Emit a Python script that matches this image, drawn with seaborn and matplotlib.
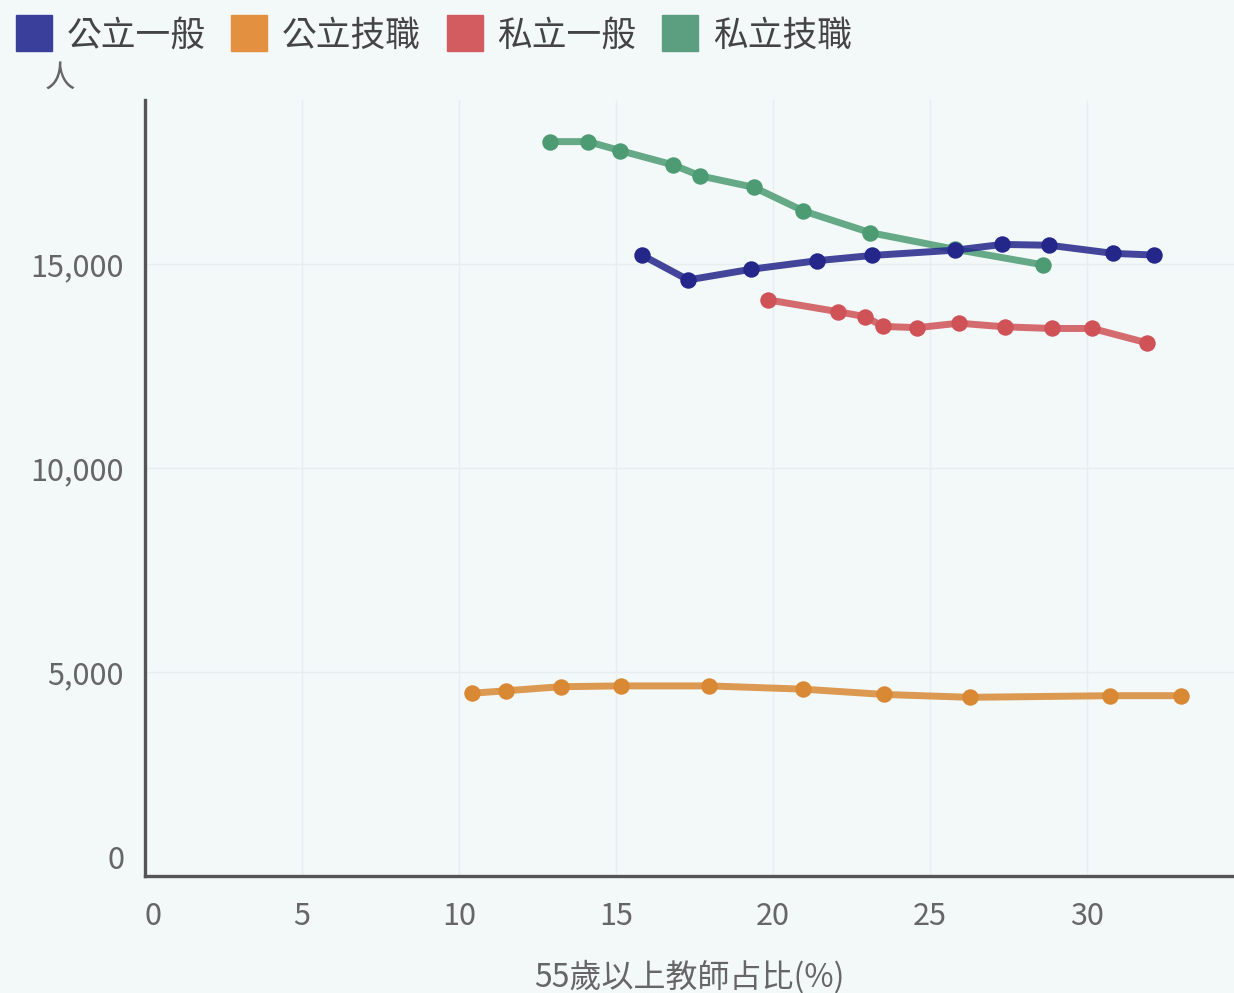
import matplotlib
matplotlib.use("Agg")
import matplotlib.pyplot as plt
from matplotlib.lines import Line2D
from matplotlib.ticker import FuncFormatter
import pandas as pd
import seaborn as sns

# %% Data
series_names = ["公立一般", "公立技職", "私立一般", "私立技職"]

pub_general_x = [15.82, 17.30, 19.29, 21.39, 23.16, 25.80, 27.30, 28.80, 30.84, 32.13]
pub_general_y = [15220, 14610, 14870, 15080, 15210, 15340, 15480, 15460, 15260, 15220]

pub_voc_x = [10.42, 11.49, 13.24, 15.16, 17.97, 20.96, 23.54, 26.27, 30.73, 32.98]
pub_voc_y = [4480, 4540, 4640, 4660, 4660, 4580, 4450, 4380, 4420, 4420]

priv_general_x = [19.85, 22.08, 22.93, 23.51, 24.60, 25.92, 27.39, 28.88, 30.17, 31.90]
priv_general_y = [14120, 13830, 13710, 13470, 13440, 13550, 13460, 13420, 13420, 13070]

priv_voc_x = [12.90, 14.11, 15.13, 16.82, 17.68, 19.39, 20.97, 23.09, 25.80, 28.60]
priv_voc_y = [18000, 18000, 17780, 17430, 17160, 16880, 16300, 15770, 15360, 14980]

x_label = "55歲以上教師占比(%)"
y_label = "人"

# %% Styling
COLORS = {
    "background": "#f3f8f9",
    "axis": "#555555",
    "text": "#666666",
    "grid": "#e8eef0",
}
line_colors = ["#24268a", "#d98933", "#cf5257", "#4c9b72"]
legend_colors = ["#3b3f9c", "#e39040", "#d25c60", "#5c9f80"]

df = pd.concat(
    [
        pd.DataFrame({"x": xs, "y": ys, "group": name})
        for name, xs, ys in zip(
            series_names,
            [pub_general_x, pub_voc_x, priv_general_x, priv_voc_x],
            [pub_general_y, pub_voc_y, priv_general_y, priv_voc_y],
        )
    ],
    ignore_index=True,
)
palette = dict(zip(series_names, line_colors))

sns.set_theme(style="white")
plt.rcParams["font.family"] = ["Noto Sans CJK TC", "DejaVu Sans"]

fig = plt.figure(figsize=(12.34, 9.93), dpi=100, facecolor=COLORS["background"])
ax = fig.add_axes([0.1175, 0.1178, 0.8825, 0.7815])
ax.set_facecolor(COLORS["background"])

# green goes underneath, blue on top (as in the source chart)
draw_order = ["私立技職", "私立一般", "公立技職", "公立一般"]
for z, name in enumerate(draw_order):
    sub = df[df["group"] == name]
    sns.lineplot(
        data=sub, x="x", y="y", color=palette[name], sort=False,
        linewidth=5, alpha=0.85, ax=ax, zorder=3 + 2 * z,
    )
    sns.scatterplot(
        data=sub, x="x", y="y", color=palette[name],
        s=140, linewidth=0, ax=ax, zorder=4 + 2 * z,
    )

ax.set_xlim(0, 34.68)
ax.set_ylim(0, 19020)
ax.set_xticks([0, 5, 10, 15, 20, 25, 30])
ax.set_yticks([0, 5000, 10000, 15000])
ax.yaxis.set_major_formatter(FuncFormatter(lambda v, _: f"{int(v):,}"))

ax.grid(True, color=COLORS["grid"], linewidth=1)
ax.set_axisbelow(True)
for side in ["top", "right"]:
    ax.spines[side].set_visible(False)
for side in ["left", "bottom"]:
    ax.spines[side].set_color(COLORS["axis"])
    ax.spines[side].set_linewidth(2.4)
    ax.spines[side].set_zorder(20)

ax.tick_params(
    axis="both", direction="out", length=5, width=1.8, color=COLORS["axis"],
    labelsize=22, labelcolor=COLORS["text"], pad=10,
)
ax.tick_params(axis="x", pad=13)
# the first labels sit a little off the zero tick, like in the source
ax.get_xticklabels()[0].set_ha("left")
ax.get_yticklabels()[0].set_va("bottom")

ax.set_xlabel(x_label, fontsize=23, color=COLORS["text"], labelpad=20)
ax.set_ylabel("")
fig.text(60 / 1234, 1 - 78 / 993, y_label, fontsize=22, color=COLORS["text"],
         ha="center", va="center")

handles = [
    Line2D([], [], marker="s", linestyle="none", markersize=26,
           markerfacecolor=c, markeredgecolor=c)
    for c in legend_colors
]
fig.legend(
    handles, series_names, loc="upper left", bbox_to_anchor=(-0.005, 1.004),
    ncol=4, frameon=False, fontsize=25, handlelength=1.0, handletextpad=0.45,
    columnspacing=0.75, borderaxespad=0.25, labelcolor="#444444",
)

fig.savefig("out.png", dpi=100, facecolor=COLORS["background"])
